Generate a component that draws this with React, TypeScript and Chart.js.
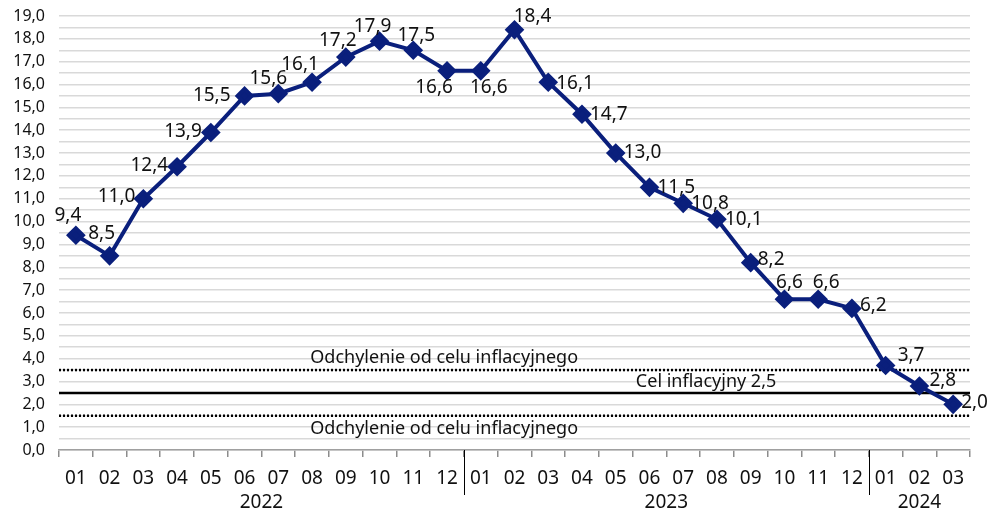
import React, { useEffect, useRef } from "react";
import { Chart, registerables } from "chart.js";

Chart.register(...registerables);

const months = ["01","02","03","04","05","06","07","08","09","10","11","12","01","02","03","04","05","06","07","08","09","10","11","12","01","02","03"];
const cpi = [9.4,8.5,11.0,12.4,13.9,15.5,15.6,16.1,17.2,17.9,17.5,16.6,16.6,18.4,16.1,14.7,13.0,11.5,10.8,10.1,8.2,6.6,6.6,6.2,3.7,2.8,2.0];
// label placement relative to each point
const labelSide = ["above","above","left","left","left","left","above","above","above","above","above","below","below","above","right","right","right","right","right","right","right","above","above","right","right","right","right"];
const labelDx = [-8,-8,-8,-9,-9,-14,-10,-12,-8,-7,3,-13,8,18,8,8,8,8,8,8,7,5,8,8,12,10,8];
const labelDy = [-20,-22,-2,-1,-1,0,-15,-18,-17,-15,-15,17,17,-13,1,0,0,0,0,0,-3,-17,-17,-3,-10,-5,-2];
const years = ["2022","2023","2024"];
const yearStart = [0, 12, 24];
const yearEnd = [11, 23, 26];
const targetValue = 2.5;
const bandUpper = 3.5;
const bandLower = 1.5;
const targetLabel = "Cel inflacyjny 2,5";
const bandLabel = "Odchylenie od celu inflacyjnego";
const yMin = 0;
const yMax = 19;

const FONT = "'Noto Sans', sans-serif";
const NAVY = "#0a1f7c";
const fmt = (v: number) => v.toFixed(1).replace(".", ",");

const overlayPlugin = {
  id: "overlay",
  beforeDatasetsDraw(chart: any) {
    const { ctx, chartArea } = chart;
    const y = chart.scales.y;
    const x = chart.scales.x;
    ctx.save();
    ctx.strokeStyle = "#000";
    ctx.lineWidth = 2.5;
    ctx.setLineDash([2, 2]);
    for (const v of [bandUpper, bandLower]) {
      const py = y.getPixelForValue(v);
      ctx.beginPath();
      ctx.moveTo(chartArea.left, py);
      ctx.lineTo(chartArea.right, py);
      ctx.stroke();
    }
    ctx.setLineDash([]);
    ctx.lineWidth = 2.5;
    const ty = y.getPixelForValue(targetValue);
    ctx.beginPath();
    ctx.moveTo(chartArea.left, ty);
    ctx.lineTo(chartArea.right, ty);
    ctx.stroke();

    ctx.fillStyle = "#111";
    ctx.font = `18px ${FONT}`;
    ctx.textAlign = "center";
    const bx = (x.getPixelForValue(10) + x.getPixelForValue(11)) / 2 + 14;
    ctx.textBaseline = "middle";
    ctx.fillText(bandLabel, bx, y.getPixelForValue(bandUpper) - 12);
    ctx.fillText(bandLabel, bx, y.getPixelForValue(bandLower) + 13);
    ctx.fillText(targetLabel, (x.getPixelForValue(18) + x.getPixelForValue(19)) / 2 + 6, ty - 11);
    ctx.restore();
  },
  afterDatasetsDraw(chart: any) {
    const { ctx, chartArea } = chart;
    const meta = chart.getDatasetMeta(0);
    ctx.save();
    ctx.font = `19px ${FONT}`;
    ctx.fillStyle = "#111";
    ctx.textBaseline = "middle";
    meta.data.forEach((pt: any, i: number) => {
      const side = labelSide[i];
      ctx.textAlign = side === "left" ? "right" : side === "right" ? "left" : "center";
      ctx.fillText(fmt(cpi[i]), pt.x + labelDx[i], pt.y + labelDy[i]);
    });
    const x = chart.scales.x;
    const base = chartArea.bottom;
    ctx.strokeStyle = "#000";
    ctx.lineWidth = 1;
    for (let k = 1; k < yearStart.length; k++) {
      const sx = Math.round((x.getPixelForValue(yearStart[k] - 1) + x.getPixelForValue(yearStart[k])) / 2) + 0.5;
      ctx.beginPath();
      ctx.moveTo(sx, base);
      ctx.lineTo(sx, base + 45);
      ctx.stroke();
    }
    ctx.font = `19px ${FONT}`;
    ctx.textAlign = "center";
    ctx.textBaseline = "middle";
    years.forEach((yr, k) => {
      const cx = (x.getPixelForValue(yearStart[k]) + x.getPixelForValue(yearEnd[k])) / 2;
      ctx.fillText(yr, cx, base + 53);
    });
    ctx.restore();
  },
};

export default function App() {
  const ref = useRef<HTMLCanvasElement>(null);
  useEffect(() => {
    document.body.style.margin = "0";
    const chart = new Chart(ref.current!, {
      type: "line",
      data: {
        labels: months,
        datasets: [
          {
            data: cpi,
            borderColor: NAVY,
            backgroundColor: NAVY,
            borderWidth: 4,
            pointStyle: "rectRot",
            pointRadius: 7,
            pointHoverRadius: 7,
            pointBackgroundColor: NAVY,
            pointBorderColor: NAVY,
            tension: 0,
            clip: false as any,
          },
        ],
      },
      options: {
        animation: false,
        responsive: false,
        maintainAspectRatio: false,
        events: [],
        layout: { padding: { top: 16, right: 17, left: 7, bottom: 0 } },
        plugins: { legend: { display: false }, tooltip: { enabled: false } },
        scales: {
          x: {
            type: "category",
            offset: true,
            grid: { offset: true, drawOnChartArea: false, drawTicks: true, tickLength: 7, color: "#8c8c8c", lineWidth: 1.5 },
            border: { display: true, color: "#a0a0a0", width: 1.5 },
            ticks: { color: "#111", font: { family: FONT, size: 19 }, padding: 10, maxRotation: 0, autoSkip: false },
            afterFit: (s: any) => { s.height = 61; s.paddingLeft = 0; s.paddingRight = 0; },
          },
          y: {
            min: yMin,
            max: yMax,
            grid: { color: "#d9d9d9", lineWidth: 1.5, drawTicks: false },
            border: { display: false },
            ticks: {
              stepSize: 0.5,
              autoSkip: false,
              color: "#111",
              font: { family: FONT, size: 16 },
              padding: 14,
              callback: (v: any) => (Number.isInteger(Number(v)) ? fmt(Number(v)) : ""),
            },
            afterFit: (s: any) => { s.width = 52; s.paddingTop = 0; s.paddingBottom = 0; },
          },
        },
      },
      plugins: [overlayPlugin],
    });
    return () => chart.destroy();
  }, []);
  return (
    <div style={{ position: "fixed", left: 0, top: 0, width: 987, height: 511 }}>
      <canvas ref={ref} width={987} height={511} style={{ width: 987, height: 511 }} />
    </div>
  );
}
